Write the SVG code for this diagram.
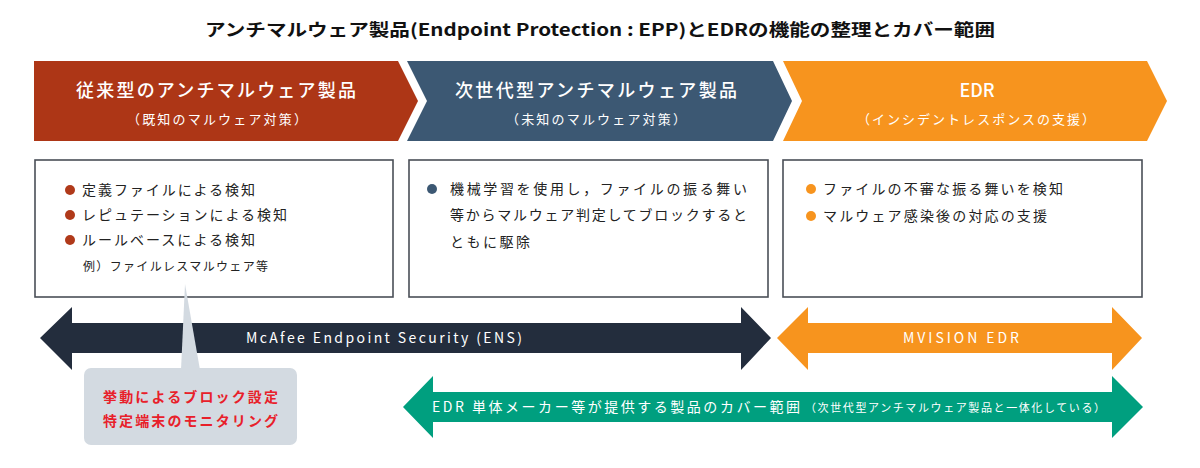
<svg xmlns="http://www.w3.org/2000/svg" width="1200" height="468" viewBox="0 0 1200 468">
<style>
text{font-family:"Noto Sans CJK JP","Noto Sans",sans-serif}
.title{font-size:17px;font-weight:bold;fill:#111}
.ch{font-size:18px;font-weight:500;fill:#fff;text-anchor:middle}
.chs{font-size:13px;fill:#fff;text-anchor:middle}
.box{fill:#fff;stroke:#4a4f57;stroke-width:1.6}
.bt{font-size:14px;fill:#222}
.bs{font-size:12px;fill:#222}
.at{font-size:14px;fill:#fff}
.co{font-size:14px;font-weight:bold;fill:#e8202a}
</style>
<rect width="1200" height="468" fill="#fff"/>
<text class="title" x="205" y="36" textLength="790" lengthAdjust="spacingAndGlyphs">アンチマルウェア製品(Endpoint Protection : EPP)とEDRの機能の整理とカバー範囲</text>

<g id="chevron-legacy">
<polygon points="34,61 398,61 418,101 398,141 34,141" fill="#ad3616"/>
<text class="ch" x="216" y="97" textLength="280">従来型のアンチマルウェア製品</text>
<text class="chs" x="217" y="124" textLength="180">（既知のマルウェア対策）</text>
</g>
<g id="chevron-nextgen">
<polygon points="407,61 773,61 792,101 773,141 407,141 427,101" fill="#3c5873"/>
<text class="ch" x="596" y="97" textLength="282">次世代型アンチマルウェア製品</text>
<text class="chs" x="596" y="124" textLength="180">（未知のマルウェア対策）</text>
</g>
<g id="chevron-edr">
<polygon points="783,61 1147,61 1167,101 1147,141 783,141 802,101" fill="#f7941e"/>
<text class="ch" x="977" y="97">EDR</text>
<text class="chs" x="976" y="124" textLength="238">（インシデントレスポンスの支援）</text>
</g>

<g id="box-legacy">
<rect class="box" x="35" y="160" width="358" height="137"/>
<circle cx="70" cy="190" r="5" fill="#b03a1a"/>
<circle cx="70" cy="215" r="5" fill="#b03a1a"/>
<circle cx="70" cy="240" r="5" fill="#b03a1a"/>
<text class="bt" x="82" y="195" textLength="173">定義ファイルによる検知</text>
<text class="bt" x="82" y="220" textLength="205">レピュテーションによる検知</text>
<text class="bt" x="82" y="245" textLength="173">ルールベースによる検知</text>
<text class="bs" x="83" y="271" textLength="185">例）ファイルレスマルウェア等</text>
</g>
<g id="box-nextgen">
<rect class="box" x="409" y="160" width="359" height="137"/>
<circle cx="432" cy="189" r="5" fill="#3c5873"/>
<text class="bt" x="450" y="194" textLength="297">機械学習を使用し，ファイルの振る舞い</text>
<text class="bt" x="450" y="220" textLength="297">等からマルウェア判定してブロックすると</text>
<text class="bt" x="450" y="247" textLength="80">ともに駆除</text>
</g>
<g id="box-edr">
<rect class="box" x="783" y="160" width="359" height="137"/>
<circle cx="811" cy="189" r="5" fill="#f7941e"/>
<circle cx="811" cy="216" r="5" fill="#f7941e"/>
<text class="bt" x="823" y="194" textLength="240">ファイルの不審な振る舞いを検知</text>
<text class="bt" x="823" y="221" textLength="224">マルウェア感染後の対応の支援</text>
</g>

<g id="connectors">
<g id="range-ens">
<polygon points="40,338 72,307 72,323 741,323 741,307 771,338 741,370 741,353 72,353 72,370" fill="#232d3d"/>
<text class="at" x="246" y="343" textLength="276">McAfee Endpoint Security (ENS)</text>
</g>
<g id="range-mvision">
<polygon points="777,338 808,307 808,323 1112,323 1112,307 1142,338 1112,370 1112,353 808,353 808,370" fill="#f7941e"/>
<text class="at" x="903" y="343" textLength="116">MVISION EDR</text>
</g>
<g id="range-edr-vendor">
<polygon points="403,407 433,376 433,392 1112,392 1112,376 1143,407 1112,438 1112,422 433,422 433,438" fill="#009f7f"/>
<text class="at" x="432" y="412" textLength="368">EDR 単体メーカー等が提供する製品のカバー範囲</text>
<text class="at" x="805" y="412" style="font-size:11px" textLength="300">（次世代型アンチマルウェア製品と一体化している）</text>
</g>
</g>

<g id="callout">
<rect x="84" y="368" width="213" height="77" rx="7" fill="#d3dae1"/>
<polygon points="185,284 181,370 200,370" fill="#d3dae1"/>
<text class="co" x="103" y="402" textLength="175">挙動によるブロック設定</text>
<text class="co" x="103" y="426" textLength="175">特定端末のモニタリング</text>
</g>
</svg>
